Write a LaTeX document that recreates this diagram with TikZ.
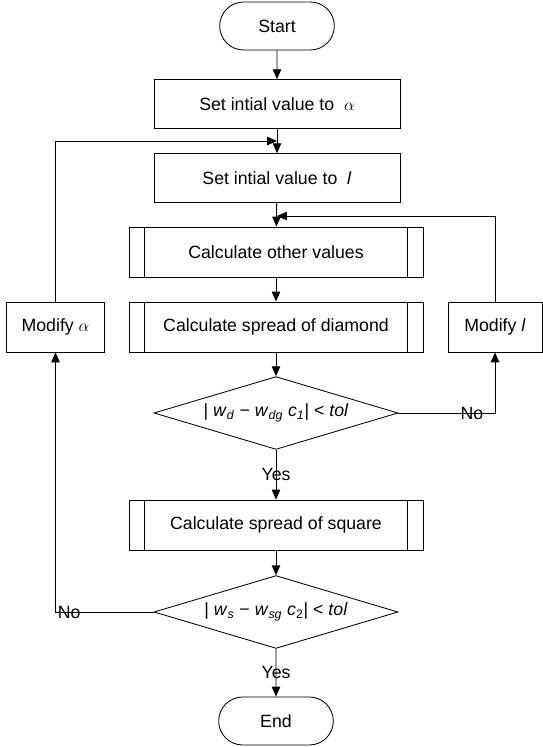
\documentclass[tikz,border=0pt]{standalone}
\usepackage{fontspec}
\setmainfont{Liberation Sans}
\usetikzlibrary{arrows.meta,shapes.geometric,shapes.misc}

\begin{document}
\begin{tikzpicture}[x=0.025cm, y=-0.025cm,
    every node/.style={font=\fontsize{12.6}{15}\selectfont},
    line width=0.6pt, >={Triangle[length=7pt,width=6pt]},
    term/.style={draw, rounded rectangle, minimum width=3.1cm, minimum height=1.2cm},
    proc/.style={draw, minimum width=6.15cm, minimum height=1.22cm},
    side/.style={draw, minimum width=2.4cm, minimum height=1.25cm},
    predef/.style={draw, minimum width=7.35cm, minimum height=1.25cm,
      path picture={
        \draw ([xshift=0.39cm]path picture bounding box.north west) -- ([xshift=0.39cm]path picture bounding box.south west);
        \draw ([xshift=-0.39cm]path picture bounding box.north east) -- ([xshift=-0.39cm]path picture bounding box.south east);
      }},
    check/.style={draw, diamond, aspect=3.3, inner sep=0pt, minimum width=6.1cm, minimum height=1.82cm}]
  \useasboundingbox (0,0) rectangle (543,747);

  % Main column
  \node[term] (start) at (277,26) {Start};
  \node[proc] (setalpha) at (277,104) {Set intial value to \ $\alpha$};
  \node[proc] (setl) at (277,178) {Set intial value to \ \textit{l}};
  \node[predef] (calcother) at (276,252) {Calculate other values};
  \node[predef] (calcdiamond) at (276,327) {Calculate spread of diamond};
  \node[check] (checkdiamond) at (276,413) {|~\textit{w}\textsubscript{\textit{d}} − \textit{w}\textsubscript{\textit{dg}}~\textit{c}\textsubscript{\textit{1}}| < \textit{tol}};
  \node[predef] (calcsquare) at (276,525) {Calculate spread of square};
  \node[check] (checksquare) at (276,612) {|~\textit{w}\textsubscript{\textit{s}} − \textit{w}\textsubscript{\textit{sg}}~\textit{c}\textsubscript{2}| < \textit{tol}};
  \node[term] (stop) at (276,721) {End};

  % Side boxes
  \node[side, minimum width=2.43cm] (modalpha) at (55.5,327) {Modify $\alpha$};
  \node[side, minimum width=2.35cm] (modl) at (495,327) {Modify \textit{l}};

  % Joins on the main line
  \coordinate (joinA) at (277,141);
  \coordinate (joinL) at (277,216);

  % Arrows
  \draw[->] (start) -- (setalpha);
  \draw[->] (setalpha) -- (setl);
  \draw[->] (setl) -- (calcother);
  \draw[->] (calcother) -- (calcdiamond);
  \draw[->] (calcdiamond) -- (checkdiamond);
  \draw[->] (checkdiamond) -- node {Yes} (calcsquare);
  \draw[->] (calcsquare) -- (checksquare);
  \draw[->] (checksquare) -- node {Yes} (stop);

  % Loops
  \draw[->] (checkdiamond.east) -| node[pos=0.38] {No} (modl.south);
  \draw[->] (modl.north) |- (joinL);
  \draw[->] (checksquare.west) -| node[pos=0.43] {No} (modalpha.south);
  \draw[->] (modalpha.north) |- (joinA);
\end{tikzpicture}
\end{document}
